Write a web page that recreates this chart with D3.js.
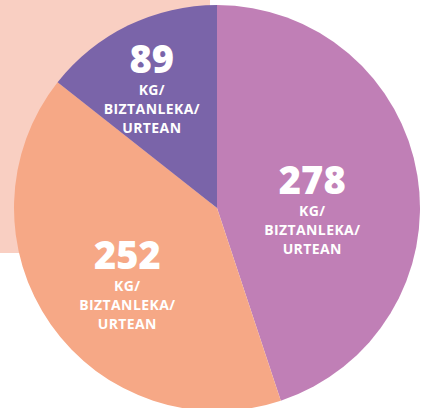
<!DOCTYPE html>
<html>
<head>
<meta charset="utf-8">
<script src="https://cdn.jsdelivr.net/npm/d3@7"></script>
<style>
  html, body { margin: 0; padding: 0; background: #ffffff; }
  svg { display: block; }
</style>
</head>
<body>
<svg id="chart" width="421" height="408"></svg>
<script>
const categories = ["A", "B", "C"];
const values = [278, 252, 89];
const unitLines = ["KG/", "BIZTANLEKA/", "URTEAN"];
const colors = ["#c07fb6", "#f6a886", "#7a64a9"];

const W = 421, H = 408;
const cx = 217, cy = 208, R = 203;
const svg = d3.select("#chart");

// pale background panel
svg.append("rect")
  .attr("x", 0).attr("y", 0)
  .attr("width", 210).attr("height", 253)
  .attr("fill", "#f9cfc2");

const data = categories.map((c, i) => ({ cat: c, value: values[i] }));
const pie = d3.pie().sort(null).value(d => d.value).startAngle(0).endAngle(2 * Math.PI);
const arcs = pie(data);
const arc = d3.arc().innerRadius(0).outerRadius(R);
const color = d3.scaleOrdinal().domain(categories).range(colors);

const g = svg.append("g").attr("transform", `translate(${cx},${cy})`);
g.selectAll("path.slice")
  .data(arcs)
  .join("path")
  .attr("class", "slice")
  .attr("d", arc)
  .attr("fill", d => color(d.data.cat));

// label placement: centroid on an inner arc plus a small nudge
const labelArc = d3.arc().innerRadius(R * 0.6).outerRadius(R * 0.6);
const nudges = { A: [-25, 5], B: [10, -9], C: [-12, -25] };

const labels = g.selectAll("g.label")
  .data(arcs)
  .join("g")
  .attr("class", "label")
  .attr("transform", d => {
    const [x, y] = labelArc.centroid(d);
    const n = nudges[d.data.cat];
    return `translate(${x + n[0]},${y + n[1]})`;
  });

labels.append("text")
  .attr("text-anchor", "middle")
  .attr("font-family", "'Open Sans', sans-serif")
  .attr("font-weight", 800)
  .attr("font-size", 38)
  .attr("fill", "#ffffff")
  .attr("y", 0)
  .text(d => d.data.value);

labels.each(function() {
  const sel = d3.select(this);
  unitLines.forEach((t, i) => {
    sel.append("text")
      .attr("text-anchor", "middle")
      .attr("font-family", "'Open Sans', sans-serif")
      .attr("font-weight", 700)
      .attr("font-size", 14)
      .attr("letter-spacing", 0.4)
      .attr("fill", "#ffffff")
      .attr("y", 22 + i * 19)
      .text(t);
  });
});
</script>
</body>
</html>
